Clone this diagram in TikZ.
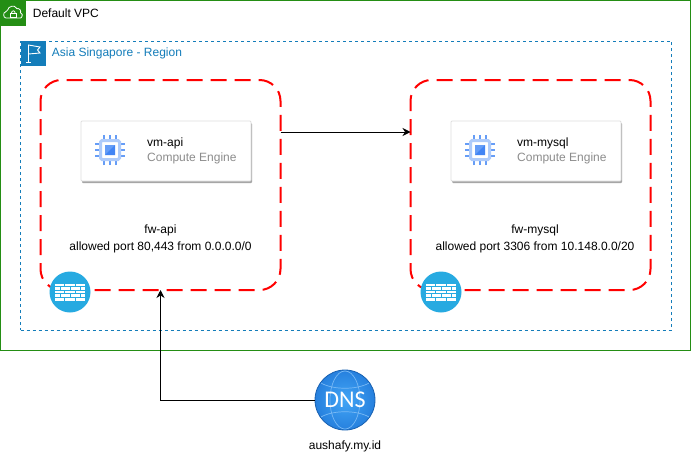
\documentclass[tikz,border=0pt]{standalone}
\usepackage{fontspec}
\setmainfont{Liberation Sans}
\newfontfamily\dnsfont{Carlito}
\usepackage{tikz}
\usetikzlibrary{arrows.meta, positioning, calc, shadows}
\definecolor{VpcGreen}{RGB}{36, 142, 20}
\definecolor{RegionBlue}{RGB}{20, 125, 186}
\definecolor{WallBlue}{RGB}{39, 170, 225}
\definecolor{FwRed}{RGB}{255, 0, 0}
\definecolor{ChipLight}{RGB}{174, 203, 250}
\definecolor{ChipMid}{RGB}{102, 157, 246}
\definecolor{ChipDark}{RGB}{66, 133, 244}
\definecolor{DnsLight}{RGB}{66, 165, 245}
\definecolor{DnsDark}{RGB}{38, 128, 222}
\definecolor{DnsEdge}{RGB}{24, 96, 176}
\definecolor{DnsLine}{RGB}{120, 185, 245}
\tikzset{
  pics/chip/.style={code={
    \foreach \p in {-6,0,6} {
      \draw [ChipMid, line width=2.7pt] (\p pt,-15pt) -- (\p pt,-10pt);
      \draw [ChipMid, line width=2.7pt] (\p pt,10pt) -- (\p pt,15pt);
      \draw [ChipMid, line width=2.7pt] (-15pt,\p pt) -- (-10pt,\p pt);
      \draw [ChipMid, line width=2.7pt] (10pt,\p pt) -- (15pt,\p pt);
    }
    \draw [ChipLight, fill=white, line width=3pt, rounded corners=1.5pt] (-9.5pt,-9.5pt) rectangle (9.5pt,9.5pt);
    \fill [ChipMid] (-5pt,-5pt) rectangle (5pt,5pt);
    \fill [ChipDark] (-5pt,-5pt) -- (5pt,-5pt) -- (5pt,5pt) -- cycle;
  }},
  pics/wall/.style={code={
    \fill [WallBlue] (0,0) circle (20.5pt);
    \foreach \r in {7.2, 3.6, 0, -3.6, -7.2} {
      \fill [white] (-15pt,\r pt-1.3pt) rectangle (15pt,\r pt+1.3pt);
    }
    \foreach \q in {-5.2,5.2} {
      \draw [WallBlue, line width=0.7pt] (\q pt,8.5pt) -- (\q pt,5.9pt);
      \draw [WallBlue, line width=0.7pt] (\q pt,1.3pt) -- (\q pt,-1.3pt);
      \draw [WallBlue, line width=0.7pt] (\q pt,-5.9pt) -- (\q pt,-8.5pt);
    }
    \foreach \q in {-10,0,10} {
      \draw [WallBlue, line width=0.7pt] (\q pt,4.9pt) -- (\q pt,2.3pt);
      \draw [WallBlue, line width=0.7pt] (\q pt,-2.3pt) -- (\q pt,-4.9pt);
    }
  }}
}
\begin{document}
\begin{tikzpicture}[x=1pt, y=-1pt]
  \tikzstyle{vpc} = [draw=VpcGreen, line width=1pt, fill=white, minimum width=690pt, minimum height=350pt, inner sep=0pt]
  \tikzstyle{region} = [draw=RegionBlue, dash pattern=on 3pt off 3pt, line width=0.6pt, minimum width=651pt, minimum height=289pt, inner sep=0pt]
  \tikzstyle{fwbox} = [draw=FwRed, line width=2pt, dash pattern=on 16pt off 8pt, dash phase=15pt, rounded corners=21pt, minimum width=240pt, minimum height=210pt, inner sep=0pt, outer sep=0pt]
  \tikzstyle{card} = [draw=black!13, fill=white, line width=0.8pt, rounded corners=1pt, minimum width=170pt, minimum height=60pt, inner sep=0pt, drop shadow={shadow xshift=1pt, shadow yshift=-2pt, fill=black!35, opacity=1}]
  \tikzstyle{txt} = [font=\fontsize{12}{17}\selectfont, align=center, inner sep=0pt, text=black]
  \tikzstyle{sub} = [font=\fontsize{12}{14}\selectfont, inner sep=0pt, text=black!45]
  \tikzstyle{arrow} = [-{Stealth[length=8pt, width=8pt]}, line width=0.8pt, black]
  \useasboundingbox (0,0) rectangle (691,461);

  % Nodes
  \node (vpc) [vpc] at (345.5,175.5) {};
  \node (vpctag) [fill=VpcGreen, minimum size=25pt, inner sep=0pt] at (13,13) {};
  \node (vpclabel) [txt, anchor=west, right=7pt of vpctag] {Default VPC};
  \node (region) [region] at (346,185.5) {};
  \node (regiontag) [fill=RegionBlue, minimum size=25pt, inner sep=0pt] at (33,53) {};
  \node (regionlabel) [txt, anchor=west, right=6pt of regiontag, text=RegionBlue] {Asia Singapore - Region};
  \node (fwapi) [fwbox] at (160.5,185) {};
  \node (fwmysql) [fwbox] at (530.5,185) {};
  \node (cardapi) [card] at (166,151) {};
  \node (cardmysql) [card] at (536,151) {};
  \node (vmapi) [txt, anchor=west] at (147,143) {vm-api};
  \node (ceapi) [sub, anchor=west] at (147,158) {Compute Engine};
  \node (vmmysql) [txt, anchor=west] at (517,143) {vm-mysql};
  \node (cemysql) [sub, anchor=west] at (517,158) {Compute Engine};
  \node (fwapilabel) [txt] at (160.5,238.5) {fw-api\\allowed port 80,443 from 0.0.0.0/0};
  \node (fwmysqllabel) [txt] at (535,238.5) {fw-mysql\\allowed port 3306 from 10.148.0.0/20};
  \node (dns) [circle, minimum size=60pt, inner sep=0pt, draw=DnsEdge, line width=0.8pt, inner color=DnsLight, outer color=DnsDark] at (345,400) {};
  \node (dnslabel) [txt] at (345,446) {aushafy.my.id};

  % Icons
  \pic at (110,150) {chip};
  \pic at (480,150) {chip};
  \pic at (70,292) {wall};
  \pic at (441,292) {wall};

  % Cloud with lock
  \draw [white, line width=0.8pt, rounded corners=2pt] (8,18) .. controls (3,18) and (3,12) .. (7.5,12) .. controls (8,6) and (15,5) .. (16.5,9.5) .. controls (19.5,8) and (21,11) .. (19.5,13) .. controls (23,14) and (22,18) .. (18.5,18) -- cycle;
  \draw [white, line width=0.8pt] (10.5,13) rectangle (16,17);
  \draw [white, line width=0.8pt] (11.5,13) arc[start angle=180, end angle=0, x radius=1.8pt, y radius=2.2pt];

  % Flag
  \draw [white, line width=0.9pt] (28.5,62) -- (28.5,45) -- (40,47) -- (37.5,50) -- (40,53) -- (28.5,54);
  \draw [white, line width=0.9pt] (26,62) -- (31,62);

  % Globe
  \coordinate (nw) at ($(dns)+(-24,-17)$);
  \coordinate (ne) at ($(dns)+(24,-17)$);
  \coordinate (sw) at ($(dns)+(-24,17)$);
  \coordinate (se) at ($(dns)+(24,17)$);
  \draw [DnsLine, line width=0.7pt] (dns) ellipse (15pt and 29pt);
  \draw [DnsLine, line width=0.7pt] (nw) .. controls ($(nw)+(12,7)$) and ($(ne)+(-12,7)$) .. (ne);
  \draw [DnsLine, line width=0.7pt] (sw) .. controls ($(sw)+(12,-7)$) and ($(se)+(-12,-7)$) .. (se);
  \node (dnstext) [text=white, font=\dnsfont\fontsize{24}{24}\selectfont, inner sep=0pt] at (dns) {DNS};

  % Arrows
  \draw [arrow] ([yshift=53pt]fwapi.east) -- ([yshift=53pt]fwmysql.west);
  \draw [arrow] (dns.west) -| (fwapi.south);
\end{tikzpicture}
\end{document}
